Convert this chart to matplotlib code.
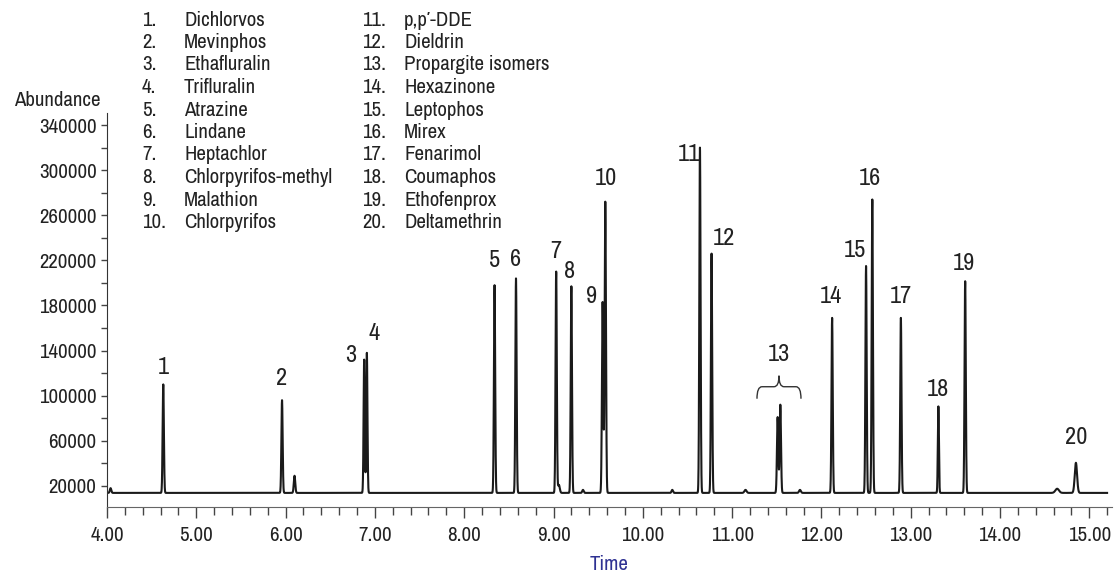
#!/usr/bin/env python3
# coding: utf-8
import numpy as np
import matplotlib
matplotlib.use("Agg")
import matplotlib.pyplot as plt
import matplotlib.transforms as mtr
from matplotlib.path import Path
import matplotlib.patches as pat
from matplotlib import font_manager as fm

# a narrow face if one is around
cond = [f.name for f in fm.fontManager.ttflist if f.stretch in ('condensed', 'semi-condensed', 'extra-condensed')]
narrow = [f.name for f in fm.fontManager.ttflist if 'Narrow' in f.name or 'Condensed' in f.name]
plt.rcParams['font.family'] = (narrow[:1] or cond[:1]) + ['DejaVu Sans']
if not narrow and cond:
    plt.rcParams['font.stretch'] = 'condensed'

# compound names (legend)
names = ["Dichlorvos", "Mevinphos", "Ethafluralin", "Trifluralin", "Atrazine",
         "Lindane", "Heptachlor", "Chlorpyrifos-methyl", "Malathion", "Chlorpyrifos",
         "p,p\u2032-DDE", "Dieldrin", "Propargite isomers", "Hexazinone", "Leptophos",
         "Mirex", "Fenarimol", "Coumaphos", "Ethofenprox", "Deltamethrin"]

# labelled peaks: retention time [min], apex abundance, width (sigma, min)
peak_ids   = ["1", "2", "3", "4", "5", "6", "7", "8", "9", "10",
              "11", "12", "13", "13", "14", "15", "16", "17", "18", "19", "20"]
peak_times = [4.63, 5.96, 6.88, 6.91, 8.34, 8.58, 9.03, 9.20, 9.55, 9.58,
              10.64, 10.77, 11.51, 11.54, 12.12, 12.50, 12.57, 12.89, 13.31, 13.61, 14.85]
peak_tops  = [110000, 96000, 132000, 138000, 198000, 204000, 210000, 197000, 183000, 272000,
              320000, 226000, 81000, 92000, 169000, 215000, 274000, 169000, 90500, 201500, 40500]
peak_sig   = [0.007, 0.007, 0.0066, 0.0066, 0.007, 0.007, 0.007, 0.007, 0.0075, 0.0075,
              0.007, 0.007, 0.0076, 0.0076, 0.007, 0.007, 0.007, 0.007, 0.006, 0.007, 0.013]

# small unlabelled bumps
minor_times = [4.04, 6.10, 9.06, 9.33, 10.33, 11.15, 11.76, 14.64]
minor_tops  = [18000, 29000, 21000, 16500, 16500, 16500, 16500, 17500]
minor_sig   = [0.008, 0.008, 0.010, 0.008, 0.008, 0.012, 0.010, 0.020]

baseline = 13800

# label offsets in pixels from apex (dx, dy)
lab_off = {"1": (0, 17), "2": (0, 22), "3": (-13, 4), "4": (7, 19), "5": (0, 25),
           "6": (0, 19), "7": (0, 20), "8": (-2, 15), "9": (-11, 6), "10": (1, 23),
           "11": (-11, -7), "12": (12, 15), "14": (-1, 21), "15": (-11, 16), "16": (-2, 21),
           "17": (0, 21), "18": (0, 17), "19": (-1, 18), "20": (0, 25)}

t = np.arange(4.0, 15.2, 0.001)
y = np.full_like(t, baseline, dtype=float)
for tr, h, s in zip(peak_times + minor_times, peak_tops + minor_tops, peak_sig + minor_sig):
    y += (h - baseline) * np.exp(-0.5 * ((t - tr) / s) ** 2)

fig = plt.figure(figsize=(11.14, 5.74), dpi=100)
ax = fig.add_axes([107 / 1114, 67 / 574, (1112 - 107) / 1114, (507 - 113) / 574])
ax.plot(t, y, color='#1a1a1a', lw=1.5)
ax.set_xlim(4.0, 4.0 + (1112 - 107) / 89.3)
ax.set_ylim(1300, 350700)

for s in ['top', 'right']:
    ax.spines[s].set_visible(False)
ax.spines['left'].set_color('#333333')
ax.spines['bottom'].set_color('#666666')

ax.set_xticks(np.arange(4, 16, 1.0))
ax.set_xticklabels(["%.2f" % v for v in np.arange(4, 16, 1.0)])
ax.set_xticks(np.arange(4, 15.3, 0.2), minor=True)
ax.set_yticks(np.arange(20000, 350000, 40000))
ax.set_yticks(np.arange(40000, 350000, 40000), minor=True)
ax.tick_params(axis='x', which='major', length=8, width=1, color='#444444',
               labelsize=15, pad=6, labelcolor='#222222')
ax.tick_params(axis='x', which='minor', length=5.8, width=1, color='#444444')
ax.tick_params(axis='y', which='both', length=4.5, width=1, color='#444444',
               labelsize=15, pad=3, labelcolor='#222222')

# peak labels
for pid, tr, h in zip(peak_ids, peak_times, peak_tops):
    if pid == "13":
        continue
    dx, dy = lab_off[pid]
    ax.annotate(pid, xy=(tr, h), xytext=(dx, dy), textcoords='offset pixels',
                ha='center', va='center', fontsize=17.5, color='#222222')

# brace + label for the propargite isomers
t13 = (peak_times[12] + peak_times[13]) / 2
h13 = max(peak_tops[12], peak_tops[13])
verts = [(-22, 6), (-22, 18), (-17, 18), (-5, 18), (0, 18), (0, 29),
         (0, 18), (5, 18), (17, 18), (22, 18), (22, 6)]
codes = [Path.MOVETO, Path.CURVE3, Path.CURVE3, Path.LINETO, Path.CURVE3, Path.CURVE3,
         Path.CURVE3, Path.CURVE3, Path.LINETO, Path.CURVE3, Path.CURVE3]
brace = pat.PathPatch(Path(verts, codes), fill=False, lw=1.0, color='#333333',
                      transform=mtr.Affine2D() + mtr.ScaledTranslation(t13, h13, ax.transData))
ax.add_patch(brace)
ax.annotate("13", xy=(t13, h13), xytext=(0, 50), textcoords='offset pixels',
            ha='center', va='center', fontsize=17.5, color='#222222')

# legend listing
for i, nm in enumerate(names):
    col, row = divmod(i, 10)
    yy = 1 - (20 + row * 22.5) / 574
    xn = (142 if col == 0 else 362) / 1114
    xt = (184 if col == 0 else 404) / 1114
    fig.text(xn, yy, "%d." % (i + 1), ha='left', va='center', fontsize=15, color='#222222')
    fig.text(xt, yy, nm, ha='left', va='center', fontsize=15, color='#222222')

fig.text(57 / 1114, 1 - 100 / 574, "Abundance", ha='center', va='center',
         fontsize=15, color='#222222')
fig.text(609 / 1114, 1 - 565 / 574, "Time", ha='center', va='center',
         fontsize=15, color='#2e3192')

fig.savefig("out.png", dpi=100)
